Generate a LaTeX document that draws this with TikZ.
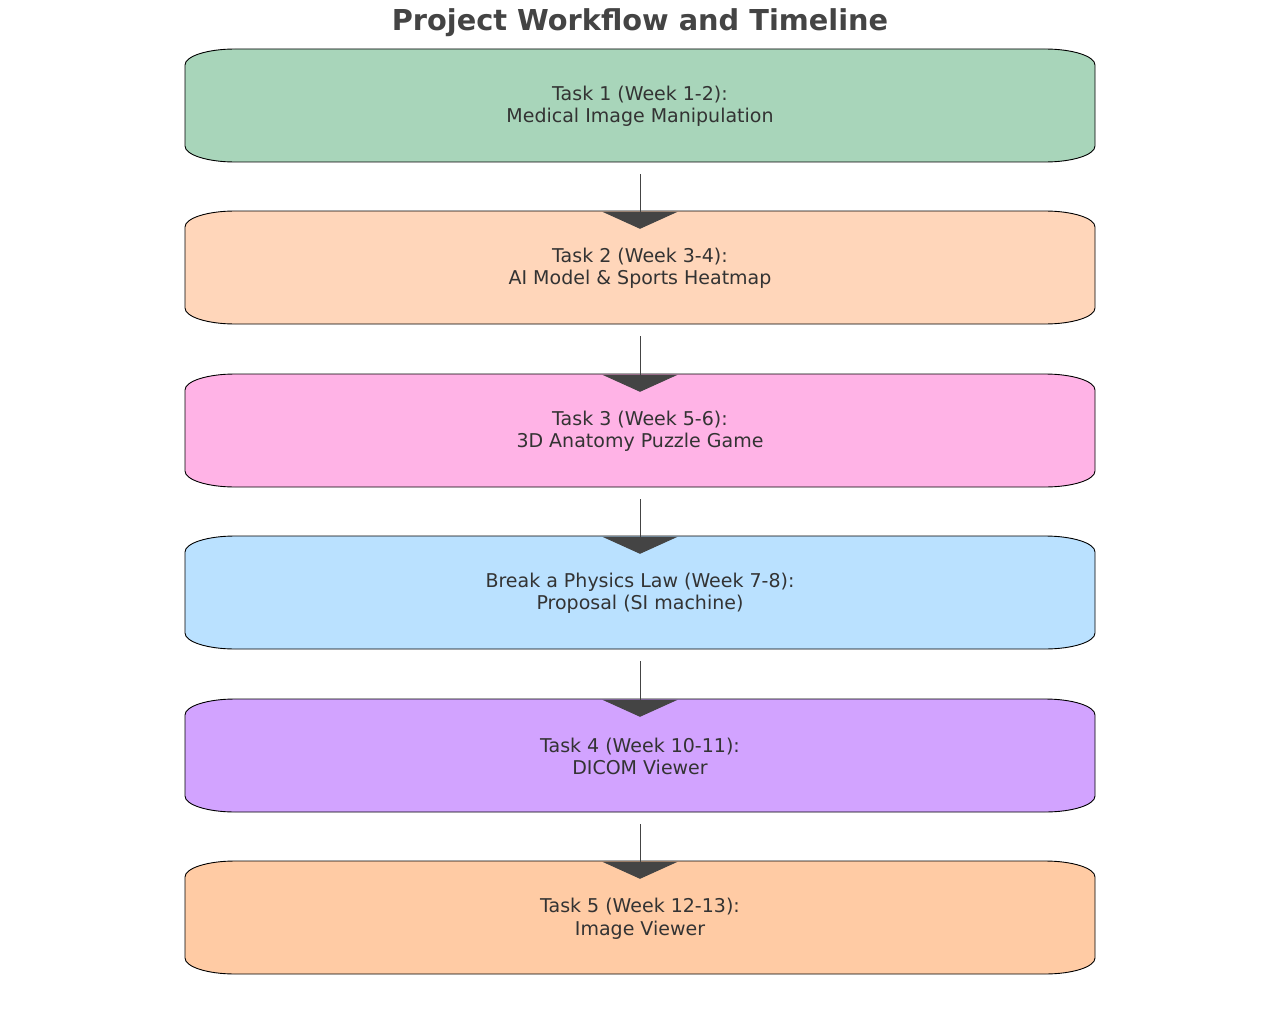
\documentclass[tikz,border=0pt]{standalone}
\usepackage{fontspec}
\setmainfont{DejaVu Sans}
\usetikzlibrary{arrows.meta}
\definecolor{txtgray}{HTML}{333333}
\definecolor{linegray}{HTML}{444444}
\definecolor{cgreen}{HTML}{A8D5BA}
\definecolor{cpeach}{HTML}{FFD6BA}
\definecolor{cpink}{HTML}{FFB3E6}
\definecolor{cblue}{HTML}{BAE1FF}
\definecolor{cviolet}{HTML}{D2A3FF}
\definecolor{corange}{HTML}{FFCBA4}
\tikzset{
  stagetext/.style={text=txtgray, font=\fontsize{19}{22.5}\selectfont, align=center,
    minimum width=910pt, minimum height=113pt, inner sep=0pt},
  flow/.style={draw=linegray, line width=1pt, shorten <=11pt, shorten >=-17pt,
    -{Triangle[length=17pt,width=75pt,fill=linegray]}},
}
% rounded box with elliptical corners, centred at (#1,#2), filled with #3
% (y axis points down, so angle 90 is downward)
\newcommand\stageshape[3]{%
  \fill[#3, draw=black, line width=0.9pt]
    (#1-455, #2-40.5) -- (#1-455, #2+40.5)
    arc[start angle=180, end angle=90, x radius=50, y radius=16]
    -- (#1+405, #2+56.5)
    arc[start angle=90, end angle=0, x radius=50, y radius=16]
    -- (#1+455, #2-40.5)
    arc[start angle=0, end angle=-90, x radius=50, y radius=16]
    -- (#1-405, #2-56.5)
    arc[start angle=270, end angle=180, x radius=50, y radius=16]
    -- cycle;}
\begin{document}
\begin{tikzpicture}[x=1pt, y=-1pt]
  \useasboundingbox (0,0) rectangle (1280,1022);
  \node[font=\bfseries\fontsize{28.8}{34}\selectfont, text=linegray] (title) at (640,23) {Project Workflow and Timeline};

  \stageshape{640}{105.5}{cgreen}
  \node[stagetext] (t1) at (640,106.5) {Task 1 (Week 1-2):\\Medical Image Manipulation};
  \stageshape{640}{267.5}{cpeach}
  \node[stagetext] (t2) at (640,268.5) {Task 2 (Week 3-4):\\AI Model \& Sports Heatmap};
  \stageshape{640}{430.5}{cpink}
  \node[stagetext] (t3) at (640,431.5) {Task 3 (Week 5-6):\\3D Anatomy Puzzle Game};
  \stageshape{640}{592.5}{cblue}
  \node[stagetext] (t4) at (640,593.5) {Break a Physics Law (Week 7-8):\\Proposal (SI machine)};
  \stageshape{640}{755.5}{cviolet}
  \node[stagetext] (t5) at (640,756.5) {Task 4 (Week 10-11):\\DICOM Viewer};
  \stageshape{640}{917.5}{corange}
  \node[stagetext] (t6) at (640,918.5) {Task 5 (Week 12-13):\\Image Viewer};

  \draw[flow] (t1.south) -- (t2.north);
  \draw[flow] (t2.south) -- (t3.north);
  \draw[flow] (t3.south) -- (t4.north);
  \draw[flow] (t4.south) -- (t5.north);
  \draw[flow] (t5.south) -- (t6.north);
\end{tikzpicture}
\end{document}
